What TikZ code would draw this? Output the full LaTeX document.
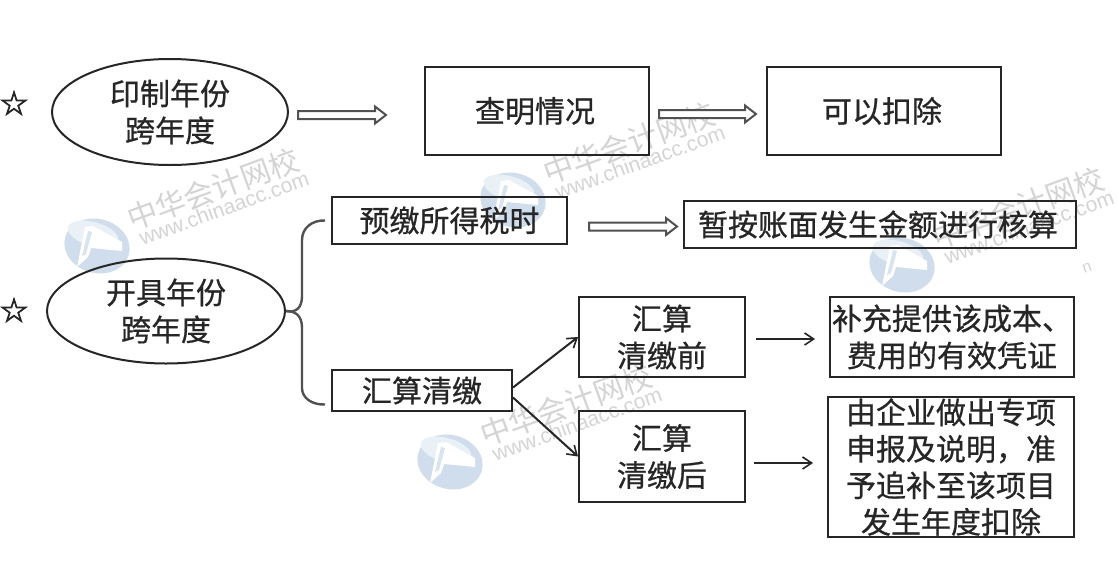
\documentclass[tikz,border=0pt]{standalone}
\usepackage{fontspec}
\setmainfont[RawFeature={embolden=0.7}]{Noto Sans CJK SC}
\newfontfamily\wmfont{Noto Sans CJK SC}
\newfontfamily\latinwm{Liberation Sans}
\newfontfamily\symfont[RawFeature={embolden=2.5}]{DejaVu Sans}
\usetikzlibrary{arrows.meta,shapes.geometric,calc}
\definecolor{inkc}{HTML}{262626}
\definecolor{wmc}{HTML}{D4D4D4}
\definecolor{logoc}{HTML}{CFDDEC}
\tikzset{
  x=1pt,y=-1pt,
  box/.style={draw=inkc,line width=2pt,inner sep=0pt,font=\fontsize{30}{37}\selectfont,align=center,text=inkc},
  oval/.style={draw=inkc,line width=2pt,ellipse,inner sep=0pt,font=\fontsize{30}{37}\selectfont,align=center,text=inkc},
  starmark/.style={font=\symfont\fontsize{33}{33}\selectfont,text=inkc,inner sep=0pt},
  hollow/.style={draw=inkc!80,line width=2pt,fill=white,line join=miter},
  thinarrow/.style={draw=inkc,line width=2pt,-{Straight Barb[length=9pt,width=12pt,line width=1.6pt]}},
  bracket/.style={draw=inkc!80,line width=2.4pt},
  wmcn/.style={font=\wmfont\fontsize{30}{30}\selectfont,text=wmc,rotate=20,inner sep=0pt},
  wmen/.style={font=\latinwm\fontsize{21}{21}\selectfont,text=wmc,rotate=20,inner sep=0pt},
}
\newcommand{\hollowarrow}[2]{%
  \draw[hollow] ($(#1)+(0,-4)$) -- ($(#2)+(-11,-4)$) -- ($(#2)+(-11,-8.5)$) -- (#2)
    -- ($(#2)+(-11,8.5)$) -- ($(#2)+(-11,4)$) -- ($(#1)+(0,4)$) -- cycle;}
\newcommand{\wmark}[3]{%
  \begin{scope}[shift={(#1,#2)}]
    \fill[logoc] (0,0) ellipse [x radius=33,y radius=27,rotate=-15];
    \fill[logoc!45] (-4,-12) ellipse [x radius=26,y radius=12,rotate=-15];
    \fill[white] (-20,21) -- (-12,-19) -- (-4,-20) -- (25,-4) -- (25,5) -- (-6,2) -- (-9,11) -- cycle;
    \fill[logoc!80] (-9,-15) -- (-15,10) -- (-11,8) -- (-5,-14) -- cycle;
    \node[wmcn] (wc#3) at (116,-57) {中华会计网校};
    \node[wmen] (we#3) at (127,-38) {www.chinaacc.com};
  \end{scope}}
\begin{document}
\begin{tikzpicture}
\useasboundingbox (0,0) rectangle (1119,562);
\fill[white] (0,0) rectangle (1119,562);
% watermarks
\wmark{97}{246}{a}
\wmark{513}{200}{b}
\wmark{902}{265}{c}
\wmark{450}{462}{d}
\node[font=\latinwm\fontsize{16}{16}\selectfont,text=wmc,rotate=20,inner sep=0pt] (wn) at (1087,268) {n};
% stars
\node[starmark] (s1) at (14,103) {☆};
\node[starmark] (s2) at (14,310) {☆};
% ellipses
\node[oval,minimum width=236pt,minimum height=106pt] (e1) at (170,112) {印制年份\\跨年度};
\node[oval,minimum width=238pt,minimum height=105pt] (e2) at (166,311) {开具年份\\跨年度};
% boxes
\node[box,minimum width=224pt,minimum height=88pt] (b1) at (537,111) {\hspace*{-4pt}查明情况};
\node[box,minimum width=234pt,minimum height=88pt] (b2) at (884,111) {\hspace*{-4pt}可以扣除};
\node[box,minimum width=235pt,minimum height=47pt] (b3) at (449.5,220.5) {预缴所得税时};
\node[box,minimum width=392pt,minimum height=47pt] (b4) at (880,224.5) {\hspace*{-4pt}暂按账面发生金额进行核算};
\node[box,minimum width=180pt,minimum height=41pt] (b5) at (422,390.5) {汇算清缴};
\node[box,minimum width=166pt,minimum height=80pt] (b6) at (662,337) {汇算\\清缴前};
\node[box,minimum width=244pt,minimum height=80pt] (b7) at (952,337) {补充提供该成本、\\费用的有效凭证};
\node[box,minimum width=166pt,minimum height=91pt] (b8) at (662,456.5) {汇算\\清缴后};
\node[box,minimum width=246pt,minimum height=140pt,font=\fontsize{30}{36.5}\selectfont] (b9) at (951,467) {由企业做出专项\\申报及说明，准\\予追补至该项目\\发生年度扣除};
% connectors' free ends
\coordinate (a1s) at ($(e1.east)+(9,3)$);
\coordinate (a1e) at (386,115);
\coordinate (a2e) at ($(b2.west)+(-10,3)$);
\coordinate (a2s) at ($(b1.east)+(9,3)$);
\coordinate (a3s) at ($(b3.east)+(21,6)$);
\coordinate (a3e) at ($(b4.west)+(-6,2)$);
\hollowarrow{a1s}{a1e}
\hollowarrow{a2s}{a2e}
\hollowarrow{a3s}{a3e}
% bracket
\coordinate (bt) at ($(b3.west)+(-6,0)$);
\coordinate (bb) at ($(b5.west)+(-6,14)$);
\draw[bracket] (e2.east) .. controls (296,313) and (302,308) .. (302,296) -- (302,240) .. controls (302,228) and (312,220) .. (bt);
\draw[bracket] (e2.east) .. controls (296,311) and (302,316) .. (302,328) -- (302,388) .. controls (302,398) and (312,405) .. (bb);
% arrows
\coordinate (f1) at ($(b5.east)+(0,-3)$);
\coordinate (f2) at ($(b5.east)+(0,7)$);
\draw[thinarrow] (f1) -- (b6.west);
\draw[thinarrow] (f2) -- (b8.west);
\coordinate (g1) at ($(b6.east)+(10,2)$);
\coordinate (g2) at ($(b7.west)+(-14,2)$);
\coordinate (g3) at ($(b8.east)+(8,6.5)$);
\coordinate (g4) at ($(b9.west)+(-14,-4)$);
\draw[thinarrow] (g1) -- (g2);
\draw[thinarrow] (g3) -- (g4);
\end{tikzpicture}
\end{document}
